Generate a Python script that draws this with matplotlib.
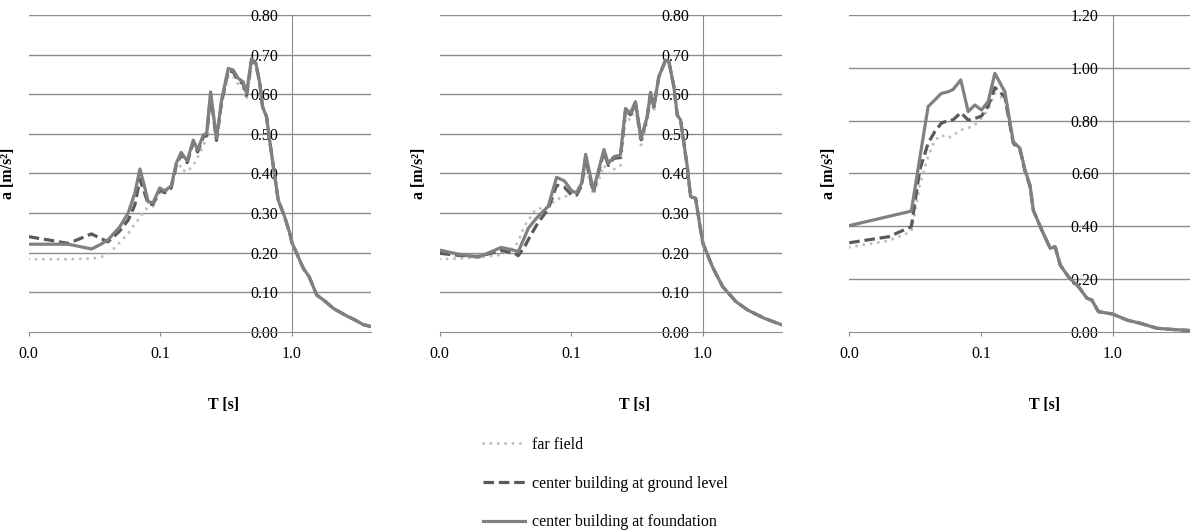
import matplotlib
matplotlib.use("Agg")
import matplotlib.pyplot as plt
from matplotlib.ticker import FixedLocator, NullLocator, FormatStrFormatter

plt.rcParams['font.family'] = ['Liberation Serif', 'DejaVu Serif']

# ---- data (period T [s], spectral acceleration a [m/s2]) ----
p1_T = [0.010, 0.014, 0.020, 0.030, 0.035, 0.040, 0.049, 0.057, 0.064, 0.070,
        0.076, 0.081, 0.088, 0.099, 0.108, 0.121, 0.132, 0.144, 0.153, 0.160,
        0.178, 0.192, 0.212, 0.225, 0.241, 0.267, 0.292, 0.328, 0.358, 0.390,
        0.426, 0.452, 0.493, 0.532, 0.570, 0.598, 0.641, 0.679, 0.729, 0.786,
        0.880, 0.964, 1.00, 1.10, 1.22, 1.35, 1.54, 1.80, 2.06, 2.30,
        2.60, 3.00, 3.47, 4.00]
p1_found = [0.221, 0.221, 0.221, 0.209, 0.220, 0.232, 0.264, 0.300, 0.350, 0.411,
            0.365, 0.328, 0.326, 0.363, 0.356, 0.368, 0.425, 0.453, 0.440, 0.432,
            0.484, 0.459, 0.497, 0.501, 0.606, 0.488, 0.585, 0.665, 0.661, 0.640,
            0.631, 0.602, 0.690, 0.678, 0.627, 0.568, 0.543, 0.480, 0.408, 0.333,
            0.290, 0.248, 0.225, 0.194, 0.160, 0.139, 0.093, 0.076, 0.059, 0.050,
            0.040, 0.030, 0.018, 0.013]
p1_ground = [0.240, 0.232, 0.223, 0.247, 0.236, 0.227, 0.254, 0.282, 0.320, 0.385,
             0.350, 0.322, 0.322, 0.358, 0.351, 0.363, 0.420, 0.448, 0.435, 0.427,
             0.479, 0.454, 0.492, 0.496, 0.600, 0.483, 0.580, 0.660, 0.656, 0.635,
             0.626, 0.597, 0.685] + p1_found[33:]
p1_far = [0.183, 0.183, 0.183, 0.185, 0.188, 0.195, 0.225, 0.248, 0.272, 0.288,
          0.307, 0.313, 0.316, 0.350, 0.352, 0.365, 0.410, 0.420, 0.405, 0.404,
          0.420, 0.440, 0.470, 0.488, 0.590, 0.490, 0.575, 0.645, 0.645, 0.625,
          0.615, 0.585, 0.675] + p1_found[33:]

p2_T = [0.010, 0.0138, 0.0196, 0.0294, 0.0372, 0.0395, 0.0443, 0.047, 0.0529, 0.0555,
        0.0668, 0.0773, 0.0885, 0.1005, 0.1097, 0.1198, 0.1285, 0.147, 0.177, 0.191,
        0.210, 0.236, 0.258, 0.281, 0.307, 0.339, 0.377, 0.400, 0.424, 0.462,
        0.520, 0.551, 0.601, 0.638, 0.676, 0.760, 0.805, 0.879, 0.96, 1.0,
        1.18, 1.41, 1.78, 2.18, 2.92, 4.0]
p2_found = [0.206, 0.196, 0.188, 0.213, 0.205, 0.202, 0.240, 0.261, 0.282, 0.290,
            0.317, 0.390, 0.381, 0.356, 0.351, 0.375, 0.448, 0.358, 0.460, 0.425,
            0.442, 0.446, 0.564, 0.552, 0.581, 0.488, 0.543, 0.604, 0.568, 0.644,
            0.686, 0.682, 0.619, 0.547, 0.535, 0.417, 0.341, 0.337, 0.257, 0.223,
            0.164, 0.114, 0.076, 0.055, 0.034, 0.017]
p2_ground = [0.198, 0.193, 0.190, 0.205, 0.198, 0.192, 0.215, 0.232, 0.262, 0.274,
             0.310, 0.370, 0.365, 0.345, 0.345, 0.370, 0.440, 0.352, 0.455, 0.420,
             0.438, 0.440, 0.560, 0.548, 0.578, 0.485] + p2_found[26:]
p2_far = [0.183, 0.185, 0.188, 0.194, 0.215, 0.228, 0.269, 0.280, 0.307, 0.310,
          0.315, 0.335, 0.340, 0.350, 0.360, 0.370, 0.420, 0.345, 0.420, 0.400,
          0.410, 0.420, 0.540, 0.535, 0.565, 0.470, 0.530, 0.590, 0.555] + p2_found[29:]

p3_T = [0.010, 0.020, 0.0296, 0.0343, 0.0397, 0.0446, 0.050, 0.0563, 0.0615, 0.0703,
        0.080, 0.090, 0.101, 0.1135, 0.1276, 0.152, 0.176, 0.198, 0.216, 0.236,
        0.250, 0.290, 0.336, 0.366, 0.400, 0.462, 0.551, 0.638, 0.696, 0.781,
        1.00, 1.29, 1.62, 2.18, 2.75, 4.00]
p3_found = [0.402, 0.437, 0.457, 0.657, 0.853, 0.878, 0.903, 0.909, 0.918, 0.954,
            0.834, 0.859, 0.840, 0.872, 0.979, 0.909, 0.720, 0.695, 0.613, 0.556,
            0.460, 0.385, 0.316, 0.322, 0.253, 0.208, 0.171, 0.127, 0.120, 0.076,
            0.067, 0.044, 0.032, 0.013, 0.009, 0.004]
p3_ground = [0.337, 0.360, 0.398, 0.613, 0.714, 0.758, 0.790, 0.800, 0.803, 0.830,
             0.802, 0.808, 0.817, 0.855, 0.925, 0.890, 0.715, 0.690, 0.610, 0.550] + p3_found[20:]
p3_far = [0.320, 0.345, 0.379, 0.556, 0.663, 0.725, 0.745, 0.733, 0.745, 0.764,
          0.772, 0.783, 0.810, 0.840, 0.903, 0.880, 0.710, 0.685, 0.605, 0.550] + p3_found[20:]

labels = ['far field', 'center building at ground level', 'center building at foundation']
x_ticks = [0.01, 0.1, 1.0]
y_ticks_12 = [0.0, 0.1, 0.2, 0.3, 0.4, 0.5, 0.6, 0.7, 0.8]
y_ticks_3 = [0.0, 0.2, 0.4, 0.6, 0.8, 1.0, 1.2]

panels = [
    (p1_T, p1_far, p1_ground, p1_found, y_ticks_12),
    (p2_T, p2_far, p2_ground, p2_found, y_ticks_12),
    (p3_T, p3_far, p3_ground, p3_found, y_ticks_3),
]

W, H = 1190, 531
fig = plt.figure(figsize=(W / 100, H / 100), dpi=100)

lefts = [28.7, 439.7, 849.3]
grid_c = '#8c8c8c'
fs = 11.5

for (T, far, ground, found, yt), lx in zip(panels, lefts):
    ax = fig.add_axes([lx / W, (H - 331.7) / H, 342.5 / W, 316.7 / H])
    ax.set_xscale('log')
    ax.set_xlim(0.01, 4.0)
    ax.set_ylim(yt[0], yt[-1])

    ax.plot(T, far, color='#bfbfbf', lw=2.2, linestyle=(0, (0.01, 2.4)),
            dash_capstyle='round', label=labels[0])
    ax.plot(T, ground, color='#5a5a5a', lw=2.3, linestyle=(0, (3.3, 1.5)),
            label=labels[1])
    ax.plot(T, found, color='#808080', lw=2.3, label=labels[2])

    for v in yt[1:]:
        ax.axhline(v, color=grid_c, lw=1, zorder=0)

    ax.spines['top'].set_visible(False)
    ax.spines['right'].set_visible(False)
    ax.spines['left'].set_position(('data', 1.0))
    ax.spines['left'].set_color(grid_c)
    ax.spines['bottom'].set_color(grid_c)

    ax.xaxis.set_major_locator(FixedLocator(x_ticks))
    ax.xaxis.set_minor_locator(NullLocator())
    ax.xaxis.set_major_formatter(FormatStrFormatter('%.1f'))
    ax.yaxis.set_major_locator(FixedLocator(yt))
    ax.yaxis.set_major_formatter(FormatStrFormatter('%.2f'))
    ax.tick_params(axis='x', length=3, color=grid_c, labelsize=fs, pad=7)
    ax.tick_params(axis='y', length=0, labelsize=fs, pad=10)

    ax.set_xlabel('T [s]', fontsize=fs, fontweight='bold')
    ax.xaxis.set_label_coords(0.57, -0.206)
    ax.set_ylabel('a [m/s²]', fontsize=fs, fontweight='bold')
    ax.yaxis.set_label_coords(-0.036, 0.5)

handles, labs = ax.get_legend_handles_labels()
fig.legend(handles, labs, loc='upper left', bbox_to_anchor=(483 / W, 1 - 437 / H),
           frameon=False, fontsize=fs, handlelength=2.6, handletextpad=0.45,
           labelspacing=1.42, borderpad=0, borderaxespad=0)

fig.savefig('out.png', dpi=100)
